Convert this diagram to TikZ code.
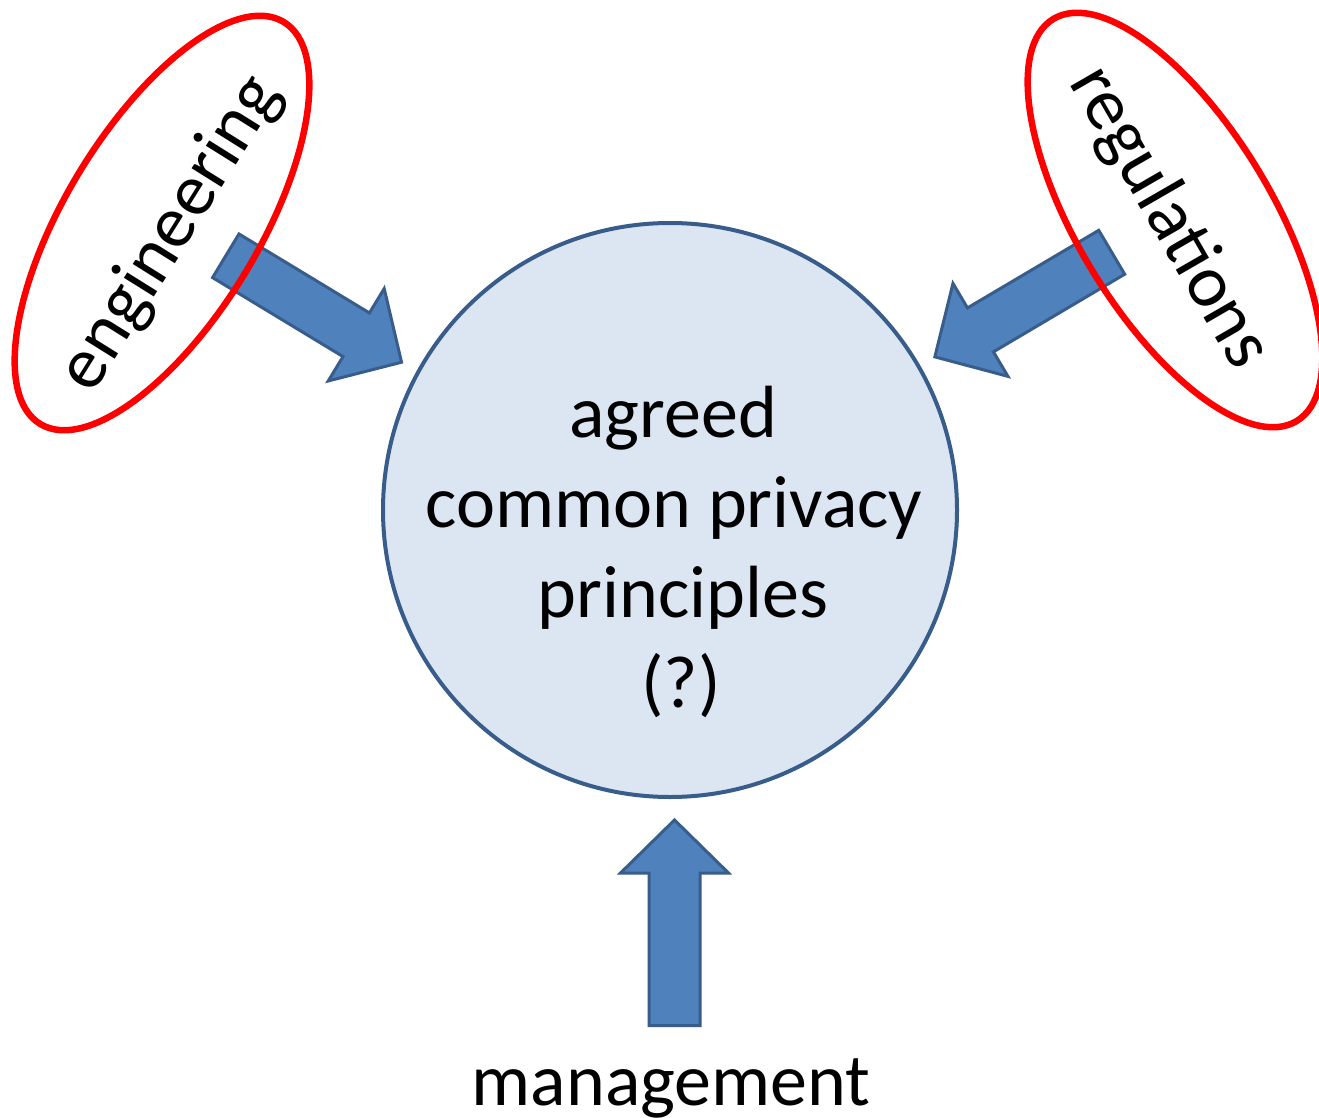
\documentclass[tikz,border=0pt]{standalone}
\usepackage{fontspec}
\setmainfont{Carlito}
\usetikzlibrary{shapes.geometric}
\definecolor{arrowfill}{HTML}{4F81BD}
\definecolor{arrowline}{HTML}{385D8A}
\definecolor{circfill}{HTML}{DCE6F2}
\definecolor{ringred}{HTML}{FF0000}
\newcommand\blockarr[4]{%
  \begin{scope}[shift={(#2,#3)}, rotate=#4]
    \draw[blockarrow] (1.5,-25.5) -- (154,-25.5) -- (154,-54) -- (207,0) -- (154,54) -- (154,25.5) -- (1.5,25.5) -- cycle;
    \coordinate (#1-tail) at (1.5,0);
    \coordinate (#1-tip) at (207,0);
  \end{scope}}
\begin{document}
\begin{tikzpicture}[x=1pt,y=-1pt,
  bigtext/.style={font=\fontsize{74}{89}\selectfont, inner sep=0pt, outer sep=0pt},
  hub/.style={circle, draw=arrowline, line width=4pt, fill=circfill, minimum size=574pt, inner sep=0pt},
  ring/.style={ellipse, draw=ringred, line width=6.5pt, minimum width=470pt, minimum height=194pt, inner sep=0pt},
  blockarrow/.style={draw=arrowline, line width=3pt, fill=arrowfill, line join=miter}]
\useasboundingbox (0,0) rectangle (1319,1118);
\fill[white] (0,0) rectangle (1319,1118);
% central circle
\node[hub] (hub) at (670,510) {};
\node[bigtext, anchor=base] (l1) at (673,437) {agreed};
\node[bigtext, anchor=base] (l2) at (674,527) {common privacy};
\node[bigtext, anchor=base] (l3) at (683,617) {principles};
\node[bigtext, anchor=base] (l4) at (681,707) {(?)};
% block arrows
\blockarr{engarr}{224.5}{255}{-31.2}
\blockarr{regarr}{1113}{251.5}{210.6}
\blockarr{mgmtarr}{674.5}{1027}{90}
% red rings
\node[ring, rotate=58.8] (engring) at (162,223) {};
\node[ring, rotate=-58.8] (regring) at (1175,220) {};
% labels
\node[bigtext, anchor=base, rotate=58] (engtxt) at (187,244) {engineering};
\node[bigtext, anchor=base, rotate=-60] (regtxt) at (1152,227.5) {regulations};
\node[bigtext, anchor=base] (mgmt) at (671,1105) {management};
\end{tikzpicture}
\end{document}
